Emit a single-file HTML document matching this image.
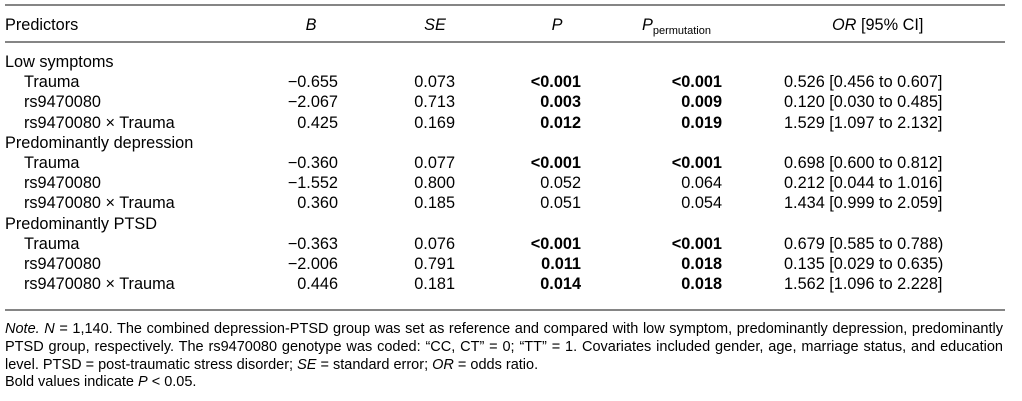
<!DOCTYPE html>
<html>
<head>
<meta charset="utf-8">
<style>
  html,body{margin:0;padding:0;background:#fff;}
  body{width:1022px;height:401px;position:relative;overflow:hidden;
       font-family:"Liberation Sans",Arial,sans-serif;color:#000;}
  .rule{position:absolute;left:5px;width:1000px;height:2px;background:#858585;}
  .row{position:absolute;left:0;width:1022px;height:20px;line-height:20px;font-size:16.3px;white-space:nowrap;}
  .row span{position:absolute;top:0;}
  .g{left:5px;}
  .i{left:24px;}
  .b{left:238px;width:100px;text-align:right;}
  .se{left:355px;width:100px;text-align:right;}
  .p{left:481px;width:100px;text-align:right;font-weight:bold;}
  .pp{left:622px;width:100px;text-align:right;font-weight:bold;}
  .pn{font-weight:normal;}
  .or{left:784px;}
  .hb{left:261px;width:100px;text-align:center;font-style:italic;}
  .hse{left:385px;width:100px;text-align:center;font-style:italic;}
  .hp{left:507px;width:100px;text-align:center;font-style:italic;}
  .hpp{left:642px;}
  .hpp i{font-style:italic;}
  .hpp sub{font-size:11px;vertical-align:-4px;font-style:normal;line-height:0;}
  .hor{left:832px;}
  .notes{position:absolute;left:5px;top:321px;width:998px;font-size:14.5px;line-height:17.8px;}
  .notes div{white-space:normal;}
  .j{text-align:justify;text-align-last:justify;height:17.8px;overflow:visible;}
</style>
</head>
<body>
<div class="rule" style="top:4px"></div>
<div class="row" style="top:15px">
  <span class="g">Predictors</span>
  <span class="hb">B</span>
  <span class="hse">SE</span>
  <span class="hp">P</span>
  <span class="hpp"><i>P</i><sub>permutation</sub></span>
  <span class="hor"><i>OR</i> [95% CI]</span>
</div>
<div class="rule" style="top:41px"></div>

<div class="row" style="top:52px"><span class="g">Low symptoms</span></div>
<div class="row" style="top:72.2px"><span class="i">Trauma</span><span class="b">−0.655</span><span class="se">0.073</span><span class="p">&lt;0.001</span><span class="pp">&lt;0.001</span><span class="or">0.526 [0.456 to 0.607]</span></div>
<div class="row" style="top:92.4px"><span class="i">rs9470080</span><span class="b">−2.067</span><span class="se">0.713</span><span class="p">0.003</span><span class="pp">0.009</span><span class="or">0.120 [0.030 to 0.485]</span></div>
<div class="row" style="top:112.6px"><span class="i">rs9470080 × Trauma</span><span class="b">0.425</span><span class="se">0.169</span><span class="p">0.012</span><span class="pp">0.019</span><span class="or">1.529 [1.097 to 2.132]</span></div>

<div class="row" style="top:132.8px"><span class="g">Predominantly depression</span></div>
<div class="row" style="top:153px"><span class="i">Trauma</span><span class="b">−0.360</span><span class="se">0.077</span><span class="p">&lt;0.001</span><span class="pp">&lt;0.001</span><span class="or">0.698 [0.600 to 0.812]</span></div>
<div class="row" style="top:173.2px"><span class="i">rs9470080</span><span class="b">−1.552</span><span class="se">0.800</span><span class="p pn">0.052</span><span class="pp pn">0.064</span><span class="or">0.212 [0.044 to 1.016]</span></div>
<div class="row" style="top:193.4px"><span class="i">rs9470080 × Trauma</span><span class="b">0.360</span><span class="se">0.185</span><span class="p pn">0.051</span><span class="pp pn">0.054</span><span class="or">1.434 [0.999 to 2.059]</span></div>

<div class="row" style="top:213.6px"><span class="g">Predominantly PTSD</span></div>
<div class="row" style="top:233.8px"><span class="i">Trauma</span><span class="b">−0.363</span><span class="se">0.076</span><span class="p">&lt;0.001</span><span class="pp">&lt;0.001</span><span class="or">0.679 [0.585 to 0.788)</span></div>
<div class="row" style="top:254px"><span class="i">rs9470080</span><span class="b">−2.006</span><span class="se">0.791</span><span class="p">0.011</span><span class="pp">0.018</span><span class="or">0.135 [0.029 to 0.635)</span></div>
<div class="row" style="top:274.2px"><span class="i">rs9470080 × Trauma</span><span class="b">0.446</span><span class="se">0.181</span><span class="p">0.014</span><span class="pp">0.018</span><span class="or">1.562 [1.096 to 2.228]</span></div>

<div class="rule" style="top:309px"></div>

<div class="notes">
  <div class="j"><i>Note.</i> <i>N</i> = 1,140. The combined depression-PTSD group was set as reference and compared with low symptom, predominantly depression, predominantly</div>
  <div class="j">PTSD group, respectively. The rs9470080 genotype was coded: “CC, CT” = 0; “TT” = 1. Covariates included gender, age, marriage status, and education</div>
  <div>level. PTSD = post-traumatic stress disorder; <i>SE</i> = standard error; <i>OR</i> = odds ratio.</div>
  <div>Bold values indicate <i>P</i> &lt; 0.05.</div>
</div>
</body>
</html>
